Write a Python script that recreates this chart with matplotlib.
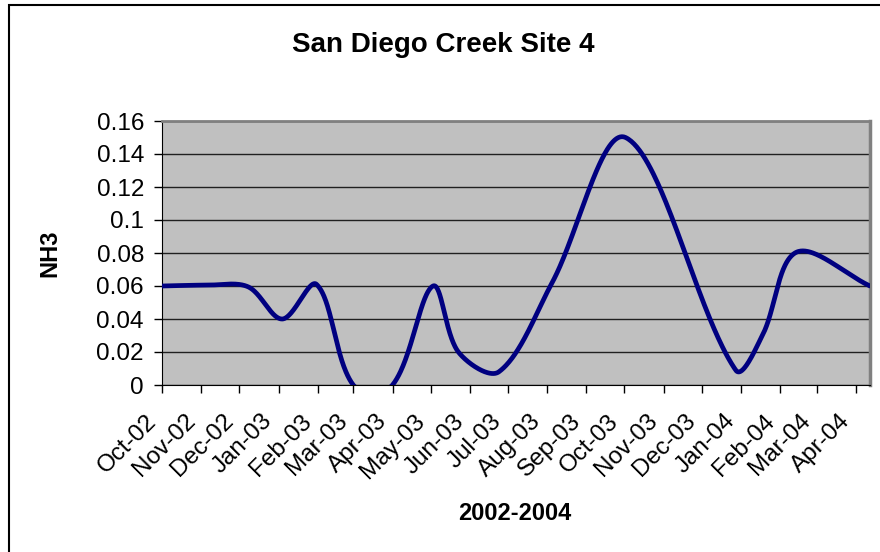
import matplotlib.pyplot as plt
import matplotlib.dates as mdates
import matplotlib.transforms as mtransforms
from matplotlib.patches import Rectangle
import numpy as np
from datetime import date

plt.rcParams['font.family'] = ['Liberation Sans', 'DejaVu Sans']

# sample dates and NH3 readings
sample_dates = [date(2002, 10, 1), date(2002, 11, 5), date(2002, 12, 8), date(2003, 1, 4),
                date(2003, 1, 31), date(2003, 3, 1), date(2003, 4, 1), date(2003, 5, 3),
                date(2003, 5, 23), date(2003, 6, 24), date(2003, 8, 5), date(2003, 10, 2),
                date(2003, 12, 28), date(2004, 1, 18), date(2004, 2, 14), date(2004, 4, 12)]
nh3 = [0.060, 0.0605, 0.0595, 0.040, 0.061, 0.0, 0.0, 0.060,
       0.020, 0.008, 0.062, 0.150, 0.009, 0.030, 0.0805, 0.060]
y_ticks = [0, 0.02, 0.04, 0.06, 0.08, 0.1, 0.12, 0.14, 0.16]
y_tick_labels = ['0', '0.02', '0.04', '0.06', '0.08', '0.1', '0.12', '0.14', '0.16']

W, H, DPI = 880, 552, 100
fig = plt.figure(figsize=(W / DPI, H / DPI), dpi=DPI)

# chart area frame (Excel style)
fig.patches.append(Rectangle((9 / W, -0.05), 1.0, 1 - 5 / H + 0.05, transform=fig.transFigure,
                             fill=False, edgecolor='black', linewidth=1.5))

left, right, top, bottom = 162, 870, 121, 385
ax = fig.add_axes([left / W, 1 - bottom / H, (right - left) / W, (bottom - top) / H])
ax.set_facecolor('#c0c0c0')

x = mdates.date2num(sample_dates)
y = np.array(nh3)
xmin, xmax = x[0], x[-1]
ymin, ymax = 0, 0.16

# smoothed line: cardinal bezier in pixel space, handles scaled by chord length
sx = (right - left) / (xmax - xmin)
sy = (bottom - top) / (ymax - ymin)
P = np.column_stack([x * sx, y * sy])
d = np.hypot(*np.diff(P, axis=0).T)
n = len(P)
tang = np.zeros_like(P)
for i in range(n):
    a = P[i - 1] if i > 0 else P[i]
    b = P[i + 1] if i < n - 1 else P[i]
    da = d[i - 1] if i > 0 else 0
    db = d[i] if i < n - 1 else 0
    tang[i] = (b - a) / (da + db)
curve = []
t = np.linspace(0, 1, 80)[:, None]
for i in range(n - 1):
    p1, p2 = P[i], P[i + 1]
    c1 = p1 + tang[i] * d[i] / 3
    c2 = p2 - tang[i + 1] * d[i] / 3
    seg = (1 - t) ** 3 * p1 + 3 * (1 - t) ** 2 * t * c1 + 3 * (1 - t) * t ** 2 * c2 + t ** 3 * p2
    curve.append(seg if i == 0 else seg[1:])
curve = np.vstack(curve)

ax.plot(curve[:, 0] / sx, curve[:, 1] / sy, color='#000080', linewidth=3.4,
        solid_capstyle='round', solid_joinstyle='round', zorder=3)

ax.set_xlim(xmin, xmax)
ax.set_ylim(ymin, ymax)
ax.set_yticks(y_ticks)
ax.set_yticklabels(y_tick_labels)
ax.yaxis.grid(True, color='#202020', linewidth=1)
ax.set_axisbelow(True)

ax.xaxis.set_major_locator(mdates.MonthLocator())
ax.xaxis.set_major_formatter(mdates.DateFormatter('%b-%y'))
ax.tick_params(axis='both', direction='out', length=6, width=1, color='black', labelsize=17.5)
ax.tick_params(axis='x', pad=12)
ax.tick_params(axis='y', pad=7)

shift = mtransforms.ScaledTranslation(-17 / DPI, 0, fig.dpi_scale_trans)
for lab in ax.get_xticklabels():
    lab.set_rotation(45)
    lab.set_ha('right')
    lab.set_va('top')
    lab.set_rotation_mode('anchor')
    lab.set_transform(lab.get_transform() + shift)

ax.spines['left'].set_color('black')
ax.spines['bottom'].set_color('black')
ax.spines['top'].set_color('#808080')
ax.spines['right'].set_color('#808080')
ax.spines['top'].set_linewidth(2)
ax.spines['right'].set_linewidth(2.5)

fig.text(443 / W, 1 - 45 / H, 'San Diego Creek Site 4', ha='center', va='center',
         fontsize=20, fontweight='bold')
fig.text(50 / W, 1 - 253 / H, 'NH3', ha='center', va='center', rotation=90,
         fontsize=17, fontweight='bold')
fig.text(515 / W, 1 - 513 / H, '2002-2004', ha='center', va='center',
         fontsize=17, fontweight='bold')

fig.savefig('out.png', dpi=DPI)
